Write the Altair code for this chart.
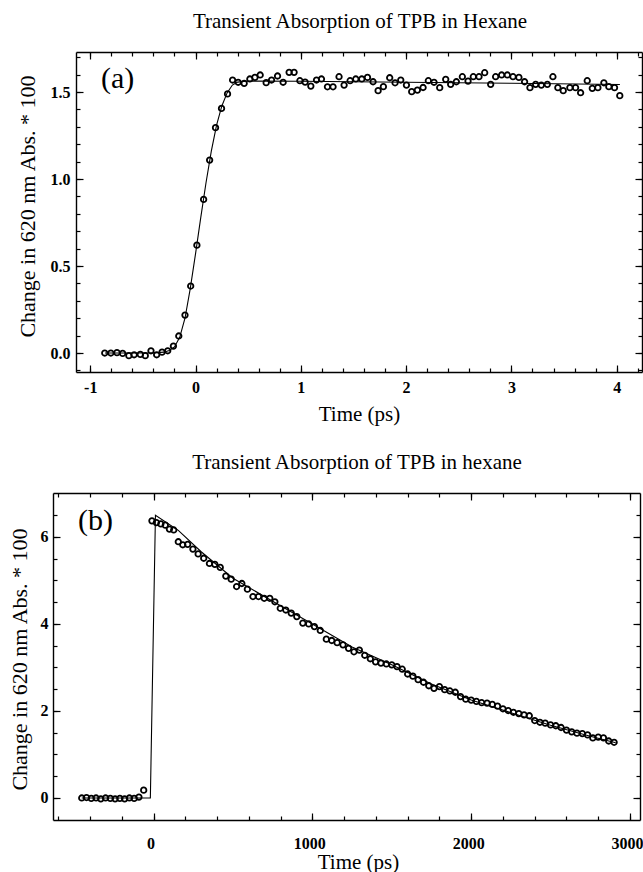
import altair as alt
import pandas as pd

FONT = "Liberation Serif"
W, H = 643, 872

# ---------------- panel (a) ----------------
a_title = ["Transient Absorption of TPB in Hexane"]
a_label = ["(a)"]
a_time = [-0.862, -0.804, -0.746, -0.692, -0.633, -0.583, -0.524, -0.477, -0.423, -0.369,
          -0.318, -0.264, -0.210, -0.159, -0.100, -0.046,
          0.013, 0.077, 0.134, 0.190, 0.247, 0.304,
          0.352, 0.405, 0.462, 0.516, 0.564, 0.614, 0.671, 0.722, 0.779, 0.832, 0.889, 0.936,
          0.991, 1.041, 1.095, 1.149, 1.196, 1.253, 1.306, 1.363, 1.411, 1.468, 1.522,
          1.579, 1.633, 1.686, 1.734, 1.784, 1.844, 1.895, 1.949, 2.003, 2.053, 2.107, 2.161,
          2.211, 2.265, 2.319, 2.376, 2.423, 2.477, 2.534, 2.588, 2.638, 2.692, 2.746, 2.803,
          2.850, 2.907, 2.961, 3.015, 3.071, 3.125, 3.176, 3.230, 3.284, 3.341, 3.394, 3.441,
          3.492, 3.555, 3.609, 3.657, 3.720, 3.768, 3.821, 3.878, 3.925, 3.979, 4.029]
a_abs = [0.000, 0.000, 0.002, -0.002, -0.015, -0.010, -0.008, -0.015, 0.013, -0.010,
         0.005, 0.013, 0.040, 0.098, 0.218, 0.385,
         0.620, 0.883, 1.109, 1.295, 1.406, 1.489,
         1.569, 1.556, 1.550, 1.575, 1.584, 1.598, 1.554, 1.569, 1.592, 1.556, 1.613, 1.613,
         1.565, 1.557, 1.534, 1.569, 1.575, 1.530, 1.530, 1.588, 1.540, 1.565, 1.575,
         1.575, 1.584, 1.559, 1.508, 1.531, 1.582, 1.553, 1.569, 1.540, 1.502, 1.511, 1.526,
         1.565, 1.556, 1.525, 1.573, 1.544, 1.559, 1.588, 1.563, 1.588, 1.588, 1.611, 1.544,
         1.588, 1.598, 1.598, 1.588, 1.584, 1.559, 1.525, 1.544, 1.540, 1.544, 1.588, 1.525,
         1.508, 1.525, 1.525, 1.496, 1.565, 1.521, 1.525, 1.553, 1.531, 1.525, 1.479]
a_fit_time = [-0.86, -0.40, -0.30, -0.25, -0.20, -0.15, -0.10, -0.05, 0.00, 0.05, 0.10,
              0.15, 0.20, 0.25, 0.30, 0.35, 0.40, 0.50, 1.00, 2.00, 3.00, 4.03]
a_fit_abs = [0.000, 0.000, 0.005, 0.015, 0.035, 0.090, 0.200, 0.370, 0.570, 0.780, 0.980,
             1.160, 1.310, 1.420, 1.495, 1.540, 1.557, 1.563, 1.562, 1.556, 1.550, 1.543]
a_xdomain = [-1.135, 4.24]
a_ydomain = [-0.109, 1.73]
a_xticks = [-1, 0, 1, 2, 3, 4]
a_xminor = [-1.0, -0.8, -0.6, -0.4, -0.2, 0.0, 0.2, 0.4, 0.6, 0.8, 1.0, 1.2, 1.4, 1.6, 1.8,
            2.0, 2.2, 2.4, 2.6, 2.8, 3.0, 3.2, 3.4, 3.6, 3.8, 4.0, 4.2]
a_yticks = [0.0, 0.5, 1.0, 1.5]
a_yminor = [-0.1, 0.0, 0.1, 0.2, 0.3, 0.4, 0.5, 0.6, 0.7, 0.8, 0.9, 1.0, 1.1, 1.2, 1.3,
            1.4, 1.5, 1.6, 1.7]

# ---------------- panel (b) ----------------
b_title = ["Transient Absorption of TPB in hexane"]
b_label = ["(b)"]
b_time = [-452, -422, -392, -362, -332, -302, -272, -242, -212, -182, -152, -122, -92, -62,
          -10, 18, 46, 74, 100, 127, 156, 184, 215, 248, 281, 316, 352, 386, 420, 455, 489,
          523, 556, 591, 626, 661, 697, 732, 764, 798, 833, 867, 902, 940, 977, 1013, 1050,
          1088, 1122, 1156, 1193, 1228, 1262, 1296,
          1330, 1365, 1398, 1432, 1466, 1500, 1533, 1566, 1600, 1633, 1666, 1700, 1733, 1766,
          1800, 1833, 1866, 1900, 1933, 1966, 2000, 2033, 2066, 2100, 2133, 2166, 2200, 2233,
          2266, 2300, 2333, 2366, 2400, 2433, 2466, 2500, 2533, 2566, 2600, 2633, 2666, 2700,
          2733, 2766, 2800, 2833, 2866, 2900]
b_abs = [0.00, 0.01, -0.01, 0.00, -0.02, 0.00, -0.01, -0.02, -0.01, -0.02, 0.00, -0.01, 0.02, 0.18,
         6.37, 6.33, 6.30, 6.27, 6.18, 6.16, 5.89, 5.82, 5.83, 5.72, 5.61, 5.51, 5.39, 5.37, 5.30,
         5.10, 5.03, 4.86, 4.93, 4.80, 4.63, 4.63, 4.59, 4.59, 4.51, 4.36, 4.32, 4.25, 4.17,
         4.02, 4.00, 3.94, 3.85, 3.65, 3.62, 3.57, 3.52, 3.44, 3.36, 3.40,
         3.28, 3.20, 3.13, 3.10, 3.08, 3.06, 3.02, 2.96, 2.85, 2.80, 2.72, 2.66, 2.58, 2.52,
         2.56, 2.49, 2.46, 2.43, 2.33, 2.27, 2.25, 2.22, 2.19, 2.18, 2.15, 2.11, 2.05, 2.01,
         1.97, 1.94, 1.91, 1.89, 1.78, 1.74, 1.72, 1.68, 1.66, 1.62, 1.56, 1.52, 1.49, 1.48,
         1.45, 1.38, 1.40, 1.38, 1.31, 1.28]
b_fit_time = [-452, -20, 12, 156, 300, 500, 750, 1000, 1250, 1500, 1750, 2000, 2250, 2500,
              2750, 2910]
b_fit_abs = [0.00, 0.00, 6.50, 6.15, 5.66, 5.05, 4.52, 4.00, 3.47, 3.06, 2.62, 2.25, 1.96,
             1.67, 1.42, 1.27]
b_xdomain = [-633, 3063]
b_ydomain = [-0.506, 7.01]
b_xticks = [0, 1000, 2000, 3000]
b_xminor = [-600, -400, -200, 0, 200, 400, 600, 800, 1000, 1200, 1400, 1600, 1800, 2000,
            2200, 2400, 2600, 2800, 3000]
b_yticks = [0, 2, 4, 6]
b_yminor = [0.0, 0.5, 1.0, 1.5, 2.0, 2.5, 3.0, 3.5, 4.0, 4.5, 5.0, 5.5, 6.0, 6.5]

Y_TITLE = "Change in 620 nm Abs. * 100"
X_TITLE = "Time (ps)"


def panel(time, absv, fit_t, fit_v, label, title, xdom, ydom, xmaj, xmin, ymaj, ymin,
          box, xfmt, yfmt, xlp, ylp, xtitle_pos, ytitle_pos, title_pos, label_pos,
          xlab_shift=0):
    L, R, T, B = box
    pts = pd.DataFrame({"t": time, "v": absv})
    fit = pd.DataFrame({"t": fit_t, "v": fit_v})
    lab = pd.DataFrame({"label": label})
    tit = pd.DataFrame({"title": title})
    xs = alt.Scale(domain=xdom, range=[L, R], nice=False, zero=False)
    ys = alt.Scale(domain=ydom, range=[B, T], nice=False, zero=False)
    common = dict(grid=False, tickColor="black", tickWidth=1.2, domainColor="black",
                  domainWidth=1.4, minExtent=0, labelFlush=False, labelOverlap=False,
                  labelBound=False)
    lab_style = dict(labelFont=FONT, labelFontSize=16, labelFontWeight="bold",
                     labelColor="black")
    tit_style = dict(titleFont=FONT, titleFontWeight="normal", titleColor="black",
                     titleBaseline="alphabetic", titleAlign="center")

    def ax_bottom(values, size, **kw):
        return alt.Axis(orient="bottom", values=values, tickSize=size,
                        offset=B - size - H, **common, **kw)

    def ax_top(values, size, **kw):
        return alt.Axis(orient="top", values=values, tickSize=size,
                        offset=-(T + size), **common, **kw)

    def ax_left(values, size, **kw):
        return alt.Axis(orient="left", values=values, tickSize=size,
                        offset=-(L + size), **common, **kw)

    def ax_right(values, size, **kw):
        return alt.Axis(orient="right", values=values, tickSize=size,
                        offset=R - size - W, **common, **kw)

    ax_b = ax_bottom(xmaj, 7, domain=False, labelPadding=xlp, format=xfmt,
                     labelExpr="replace(datum.label, '\u2212', '-')",
                     labelOffset=xlab_shift,
                     title=X_TITLE, titleFontSize=21,
                     titleX=xtitle_pos[0], titleY=xtitle_pos[1] - (B - 7),
                     **lab_style, **tit_style)
    ax_l = ax_left(ymaj, 7, domain=False, labelPadding=ylp, format=yfmt,
                   title=Y_TITLE, titleFontSize=22, titleAngle=270,
                   titleX=ytitle_pos[0] - (L + 7), titleY=ytitle_pos[1],
                   **lab_style, **tit_style)
    ax_t = ax_top(xmaj, 7, domain=False, labels=False, title=None)
    ax_r = ax_right(ymaj, 7, domain=False, labels=False, title=None)
    ax_bm = ax_bottom(xmin, 4, domain=False, labels=False, title=None)
    ax_lm = ax_left(ymin, 4, domain=False, labels=False, title=None)
    ax_tm = ax_top(xmin, 4, domain=False, labels=False, title=None)
    ax_rm = ax_right(ymin, 4, domain=False, labels=False, title=None)
    ax_bd = ax_bottom(xmaj, 0, domain=True, ticks=False, labels=False, title=None)
    ax_ld = ax_left(ymaj, 0, domain=True, ticks=False, labels=False, title=None)
    ax_td = ax_top(xmaj, 0, domain=True, ticks=False, labels=False, title=None)
    ax_rd = ax_right(ymaj, 0, domain=True, ticks=False, labels=False, title=None)

    def enc(ch, xa, ya):
        return ch.encode(x=alt.X("t:Q", scale=xs, axis=xa),
                         y=alt.Y("v:Q", scale=ys, axis=ya))

    fit_layer = enc(alt.Chart(fit).mark_line(color="black", strokeWidth=1.1), ax_b, ax_l)
    pts_layer = enc(alt.Chart(pts).mark_point(filled=False, color="black", strokeWidth=1.8,
                                              size=30, opacity=1), ax_t, ax_r)
    inv = alt.Chart(pts).mark_point(opacity=0)
    layers = [fit_layer, pts_layer, enc(inv, ax_bm, ax_lm), enc(inv, ax_tm, ax_rm),
              enc(inv, ax_bd, ax_ld), enc(inv, ax_td, ax_rd)]
    layers.append(alt.Chart(tit).mark_text(align="center", baseline="alphabetic", font=FONT,
                                           fontSize=21, color="black").encode(
        x=alt.value(title_pos[0]), y=alt.value(title_pos[1]), text="title:N"))
    layers.append(alt.Chart(lab).mark_text(align="left", baseline="alphabetic", font=FONT,
                                           fontSize=30, color="black").encode(
        x=alt.value(label_pos[0]), y=alt.value(label_pos[1]), text="label:N"))
    return layers


layers_a = panel(a_time, a_abs, a_fit_time, a_fit_abs, a_label, a_title, a_xdomain, a_ydomain,
                 a_xticks, a_xminor, a_yticks, a_yminor, (76, 642, 52, 372), "d", ".1f",
                 7, 6, (359, 420), (34, 206), (360, 28), (101, 88))
layers_b = panel(b_time, b_abs, b_fit_time, b_fit_abs, b_label, b_title, b_xdomain, b_ydomain,
                 b_xticks, b_xminor, b_yticks, b_yminor, (53, 640, 493, 820), "d", "d",
                 15, 5, (358, 868), (26, 659), (357, 469), (78, 530), xlab_shift=-3)

chart = alt.layer(*layers_a, *layers_b).resolve_scale(
    x="independent", y="independent").properties(
    width=W, height=H, padding=0, background="white",
    autosize=alt.AutoSizeParams(type="none"),
).configure_view(stroke="transparent")

chart.save("out.html", embed_options={"renderer": "svg", "actions": False})
